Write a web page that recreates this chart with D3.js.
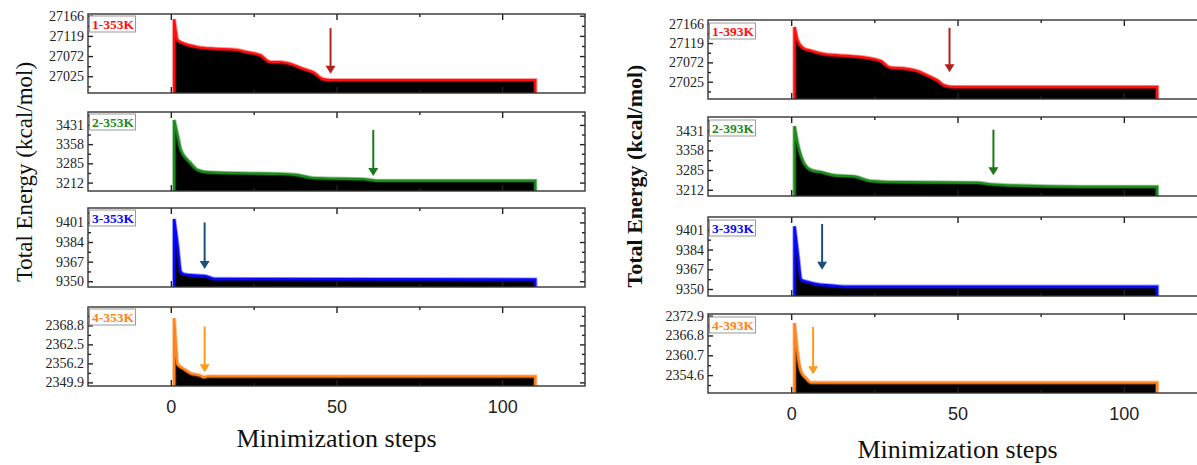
<!DOCTYPE html>
<html>
<head>
<meta charset="utf-8">
<script src="https://cdnjs.cloudflare.com/ajax/libs/d3/7.8.5/d3.min.js"></script>
<style>
  body { margin: 0; background: #fff; }
  svg { display: block; }
  .ylab { font-family: "Liberation Serif", "Times New Roman", serif; font-size: 14px; fill: #222; }
  .xlab { font-family: "Liberation Sans", Arial, sans-serif; font-size: 18px; fill: #222; }
  .title { font-family: "Liberation Serif", "Times New Roman", serif; fill: #111; }
  .tag { font-family: "Liberation Serif", "Times New Roman", serif; font-weight: bold; font-size: 13.5px; }
</style>
</head>
<body>
<svg class="chart"></svg>
<script>
const app = (function () {
  'use strict';

  // x axis (minimization steps)
  const xDomain = [-25, 125];
  const xTicks = [0, 50, 100];
  const xMinorTicks = [25, 75];

  const tags353 = ['1-353K', '2-353K', '3-353K', '4-353K'];
  const tags393 = ['1-393K', '2-393K', '3-393K', '4-393K'];

  // y axis extents and tick labels, per panel
  const yDomain353 = [[26986, 27170], [3180, 3480], [9345, 9413.5], [2348.7, 2374.9]];
  const yDomain393 = [[26983, 27175], [3189, 3481], [9344, 9412], [2349.1, 2373.4]];
  const yTicks353 = [[27025, 27072, 27119, 27166], [3212, 3285, 3358, 3431], [9350, 9367, 9384, 9401], [2349.9, 2356.2, 2362.5, 2368.8]];
  const yTicks393 = [[27025, 27072, 27119, 27166], [3212, 3285, 3358, 3431], [9350, 9367, 9384, 9401], [2354.6, 2360.7, 2366.8, 2372.9]];

  // energy traces, 353 K
  const steps353a = [1, 1.5, 2, 4, 8, 13, 19, 23, 27, 30, 33, 36, 40, 43, 46, 48, 110];
  const energy353a = [27158, 27128, 27109, 27101, 27093, 27089, 27087, 27081, 27074, 27058, 27058, 27054, 27042, 27034, 27018, 27016, 27016];
  const steps353b = [1, 2, 3, 5, 6, 8, 11, 23, 33, 38, 42, 46, 58, 62, 110];
  const energy353b = [3450, 3393, 3336, 3298, 3285, 3260, 3251, 3247, 3245, 3241, 3231, 3228, 3225, 3219, 3219];
  const steps353c = [1, 2, 3, 4, 7, 10, 11, 13, 110];
  const energy353c = [9404, 9382, 9358, 9356, 9355, 9354.5, 9354, 9352, 9351.5];
  const steps353d = [1, 1.5, 2, 4, 6, 9, 10, 11, 110];
  const energy353d = [2371.2, 2362.5, 2356, 2354.3, 2352.9, 2352.1, 2351.6, 2351.9, 2351.9];

  // energy traces, 393 K
  const steps393a = [1, 2, 3.5, 6, 10, 18, 22, 27, 29.5, 35, 38, 41, 44, 46, 49, 110];
  const energy393a = [27158, 27124, 27107, 27100, 27092, 27087, 27084, 27075, 27060, 27056, 27051, 27040, 27028, 27016, 27012, 27012];
  const steps393b = [1, 2, 4, 6, 9, 13, 19, 24, 33, 56, 60, 69, 87, 110];
  const energy393b = [3447, 3380, 3307, 3285, 3277, 3265, 3261, 3244, 3240, 3238, 3232, 3227, 3223, 3223];
  const steps393c = [1, 2, 3, 5, 8, 12, 18, 110];
  const energy393c = [9404, 9380, 9358, 9356, 9354, 9353, 9352, 9352];
  const steps393d = [1, 2, 3, 4.5, 6, 110];
  const energy393d = [2370.6, 2360.8, 2355.6, 2353.6, 2352.3, 2352.3];

  // convergence arrows: step, start energy, tip energy
  const arrowStep353 = [48.2, 61.1, 10.2, 10.2];
  const arrowFrom353 = [27137, 3412, 9401, 2368.4];
  const arrowTo353 = [27031, 3237, 9360.6, 2353.3];
  const arrowStep393 = [47.6, 60.8, 9.3, 6.6];
  const arrowFrom393 = [27156, 3434, 9406, 2369.4];
  const arrowTo393 = [27048, 3266, 9366.6, 2354.9];

  const lineColors = ['#ff1010', '#1e8a1e', '#0808ff', '#ff8420'];
  const arrowColors = ['#b2221d', '#187a18', '#1d4f7c', '#ff9a18'];

  function init () {
    const svg = d3.select('.chart')
      .attr('width', 1197)
      .attr('height', 465);

    drawFigure(svg, {
      left: 88, right: 585, tops: [14, 112, 208, 307], h: 79,
      tags: tags353, domains: yDomain353, ticks: yTicks353,
      steps: [steps353a, steps353b, steps353c, steps353d],
      energy: [energy353a, energy353b, energy353c, energy353d],
      arrows: [arrowStep353, arrowFrom353, arrowTo353],
      tagTop: 2, tagBase: 14.5,
      yTitle: { x: 32, y: 172, size: 23, weight: 'normal' },
      xTitle: { y: 447 }
    });

    drawFigure(svg, {
      left: 708, right: 1207, tops: [20, 117, 217, 314], h: 79,
      tags: tags393, domains: yDomain393, ticks: yTicks393,
      steps: [steps393a, steps393b, steps393c, steps393d],
      energy: [energy393a, energy393b, energy393c, energy393d],
      arrows: [arrowStep393, arrowFrom393, arrowTo393],
      tagTop: 3, tagBase: 15.5,
      yTitle: { x: 642, y: 176, size: 22, weight: 'bold' },
      xTitle: { y: 458 }
    });
  }

  function drawFigure (svg, o) {
    const x = d3.scaleLinear().domain(xDomain).range([o.left, o.right]);
    const fig = svg.append('g');

    o.tops.forEach(function (top, i) {
      const bottom = top + o.h;
      const y = d3.scaleLinear().domain(o.domains[i]).range([bottom, top]);
      const g = fig.append('g').attr('class', 'panel');

      const data = o.steps[i].map(function (s, j) { return [s, o.energy[i][j]]; });

      // black fill under the trace
      g.append('path')
        .attr('d', d3.area()
          .x(function (d) { return x(d[0]); })
          .y0(bottom)
          .y1(function (d) { return y(d[1]); })
          .curve(d3.curveMonotoneX)(data))
        .attr('fill', '#000');

      const line = d3.line()
        .x(function (d) { return x(d[0]); })
        .y(function (d) { return y(d[1]); })
        .curve(d3.curveMonotoneX);
      const first = data[0];
      const last = data[data.length - 1];
      const d = 'M' + x(first[0]) + ',' + bottom + 'L' + line(data).slice(1) +
        'L' + x(last[0]) + ',' + bottom;

      g.append('path')
        .attr('d', d)
        .attr('fill', 'none')
        .attr('stroke', lineColors[i])
        .attr('stroke-opacity', 0.4)
        .attr('stroke-width', 4.2);
      g.append('path')
        .attr('d', d)
        .attr('fill', 'none')
        .attr('stroke', lineColors[i])
        .attr('stroke-width', 2.4);

      // y ticks, major and minor
      const major = o.ticks[i];
      const half = (major[1] - major[0]) / 2;
      const minor = [major[0] - half].concat(major.map(function (t) { return t + half; }))
        .filter(function (t) { return t > y.domain()[0] && t < y.domain()[1]; });

      const fmt = function (t) { return Number.isInteger(t) ? String(t) : t.toFixed(1); };

      g.append('g')
        .attr('transform', 'translate(' + o.left + ',0)')
        .call(d3.axisLeft(y).tickValues(major).tickSize(-5).tickPadding(4).tickFormat(fmt))
        .call(tidy)
        .selectAll('text').attr('class', 'ylab');
      g.append('g')
        .attr('transform', 'translate(' + o.left + ',0)')
        .call(d3.axisLeft(y).tickValues(minor).tickSize(-3).tickFormat(''))
        .call(tidy);
      g.append('g')
        .attr('transform', 'translate(' + o.right + ',0)')
        .call(d3.axisRight(y).tickValues(major).tickSize(-5).tickFormat(''))
        .call(tidy);
      g.append('g')
        .attr('transform', 'translate(' + o.right + ',0)')
        .call(d3.axisRight(y).tickValues(minor).tickSize(-3).tickFormat(''))
        .call(tidy);

      // x ticks, top and bottom
      g.append('g')
        .attr('transform', 'translate(0,' + top + ')')
        .call(d3.axisTop(x).tickValues(xTicks).tickSize(-6).tickFormat(''))
        .call(tidy);
      g.append('g')
        .attr('transform', 'translate(0,' + top + ')')
        .call(d3.axisTop(x).tickValues(xMinorTicks).tickSize(-3).tickFormat(''))
        .call(tidy);
      const bx = g.append('g')
        .attr('transform', 'translate(0,' + bottom + ')')
        .call(d3.axisBottom(x).tickValues(xTicks).tickSize(-6).tickPadding(14)
          .tickFormat(i === o.tops.length - 1 ? d3.format('d') : ''))
        .call(tidy);
      bx.selectAll('text').attr('class', 'xlab');
      g.append('g')
        .attr('transform', 'translate(0,' + bottom + ')')
        .call(d3.axisBottom(x).tickValues(xMinorTicks).tickSize(-3).tickFormat(''))
        .call(tidy);

      // frame
      g.append('rect')
        .attr('x', o.left)
        .attr('y', top)
        .attr('width', o.right - o.left)
        .attr('height', o.h)
        .attr('fill', 'none')
        .attr('stroke', '#333')
        .attr('stroke-width', 1.4);

      // tag box
      g.append('rect')
        .attr('x', o.left + 1.5)
        .attr('y', top + o.tagTop)
        .attr('width', 46)
        .attr('height', 16)
        .attr('fill', '#fff')
        .attr('stroke', '#999')
        .attr('stroke-width', 1);
      g.append('text')
        .attr('class', 'tag')
        .attr('x', o.left + 4)
        .attr('y', top + o.tagBase)
        .attr('fill', lineColors[i])
        .text(o.tags[i]);

      // arrow
      const ax = x(o.arrows[0][i]);
      const ay0 = y(o.arrows[1][i]);
      const ay1 = y(o.arrows[2][i]);
      g.append('line')
        .attr('x1', ax).attr('x2', ax)
        .attr('y1', ay0).attr('y2', ay1 - 6)
        .attr('stroke', arrowColors[i])
        .attr('stroke-width', 2);
      g.append('path')
        .attr('d', 'M' + (ax - 5) + ',' + (ay1 - 8) + 'L' + (ax + 5) + ',' + (ay1 - 8) + 'L' + ax + ',' + ay1 + 'Z')
        .attr('fill', arrowColors[i]);
    });

    const mid = o.tops[0] + (o.tops[3] + o.h - o.tops[0]) / 2;
    fig.append('text')
      .attr('class', 'title')
      .attr('transform', 'translate(' + o.yTitle.x + ',' + o.yTitle.y + ') rotate(-90)')
      .attr('text-anchor', 'middle')
      .attr('font-size', o.yTitle.size)
      .attr('font-weight', o.yTitle.weight)
      .text('Total Energy (kcal/mol)');

    fig.append('text')
      .attr('class', 'title')
      .attr('x', x(50))
      .attr('y', o.xTitle.y)
      .attr('text-anchor', 'middle')
      .attr('font-size', 26)
      .text('Minimization steps');

    return mid;
  }

  function tidy (sel) {
    sel.select('.domain').remove();
    sel.selectAll('line').attr('stroke', '#222').attr('stroke-width', 1.4);
  }

  return {
    init: init
  };
}());

window.addEventListener('load', app.init);
</script>
</body>
</html>
